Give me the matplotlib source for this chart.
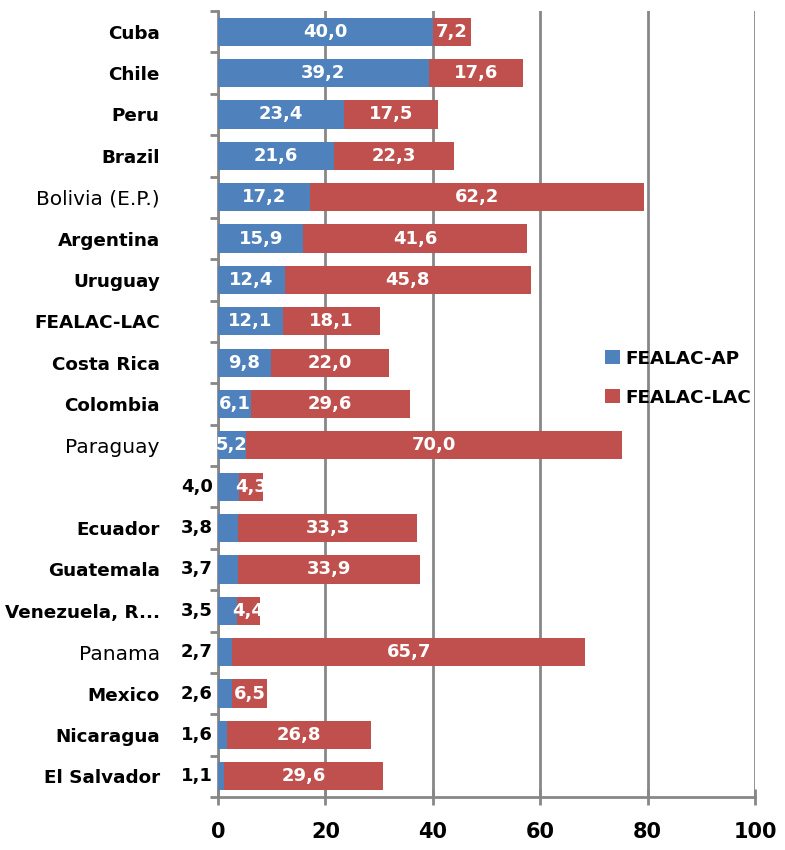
import matplotlib.pyplot as plt
import numpy as np

# Data (top to bottom)
countries = ["Cuba", "Chile", "Peru", "Brazil", "Bolivia (E.P.)", "Argentina",
             "Uruguay", "FEALAC-LAC", "Costa Rica", "Colombia", "Paraguay", "",
             "Ecuador", "Guatemala", "Venezuela, R...", "Panama", "Mexico",
             "Nicaragua", "El Salvador"]
fealac_ap = [40.0, 39.2, 23.4, 21.6, 17.2, 15.9, 12.4, 12.1, 9.8, 6.1, 5.2, 4.0,
             3.8, 3.7, 3.5, 2.7, 2.6, 1.6, 1.1]
fealac_lac = [7.2, 17.6, 17.5, 22.3, 62.2, 41.6, 45.8, 18.1, 22.0, 29.6, 70.0, 4.3,
              33.3, 33.9, 4.4, 65.7, 6.5, 26.8, 29.6]
normal_weight = ["Bolivia (E.P.)", "Paraguay", "Panama"]

blue = "#4F81BD"
red = "#C0504D"
grid_gray = "#878787"

fig = plt.figure(figsize=(7.85, 8.5), dpi=100)
ax = fig.add_axes([0.2777, 0.0624, 0.6841, 0.9246])

y = np.arange(len(countries))
ax.barh(y, fealac_ap, height=0.68, color=blue, label="FEALAC-AP", zorder=3)
ax.barh(y, fealac_lac, left=fealac_ap, height=0.68, color=red, label="FEALAC-LAC", zorder=3)

# value labels
for i, (a, b) in enumerate(zip(fealac_ap, fealac_lac)):
    txt_a = f"{a:.1f}".replace(".", ",")
    txt_b = f"{b:.1f}".replace(".", ",")
    if a >= 5:
        ax.text(a / 2, i, txt_a, ha="center", va="center", color="white",
                fontsize=13, fontweight="bold", zorder=4)
    else:
        ax.text(-1.0, i, txt_a, ha="right", va="center", color="black",
                fontsize=13, fontweight="bold", zorder=4, clip_on=False)
    ax.text(a + b / 2, i, txt_b, ha="center", va="center", color="white",
            fontsize=13, fontweight="bold", zorder=4)

ax.set_xlim(0, 100)
ax.set_ylim(len(countries) - 0.5, -0.5)
ax.set_xticks([0, 20, 40, 60, 80, 100])
ax.set_yticks(y)
ax.set_yticklabels(countries)
for lbl in ax.get_yticklabels():
    if lbl.get_text() in normal_weight:
        lbl.set_fontweight("normal")
        lbl.set_fontsize(14.5)
    else:
        lbl.set_fontweight("bold")
        lbl.set_fontsize(13.2)
for lbl in ax.get_xticklabels():
    lbl.set_fontweight("bold")
    lbl.set_fontsize(15)

ax.set_yticks(np.arange(-0.5, len(countries), 1), minor=True)
ax.tick_params(axis="y", which="major", length=0, pad=42)
ax.tick_params(axis="y", which="minor", length=6, width=2, color=grid_gray, direction="out")
ax.tick_params(axis="x", length=12, width=2, color=grid_gray, direction="inout", pad=12)

ax.grid(axis="x", color=grid_gray, linewidth=2, zorder=0)
for s in ["top", "right"]:
    ax.spines[s].set_visible(False)
for s in ["left", "bottom"]:
    ax.spines[s].set_color(grid_gray)
    ax.spines[s].set_linewidth(2)

leg = ax.legend(loc="center left", bbox_to_anchor=(0.69, 0.533), frameon=False,
                fontsize=13.2, handlelength=0.8, handleheight=0.8, handletextpad=0.3,
                labelspacing=1.15)
for t in leg.get_texts():
    t.set_fontweight("bold")

fig.savefig("out.png", dpi=100)
